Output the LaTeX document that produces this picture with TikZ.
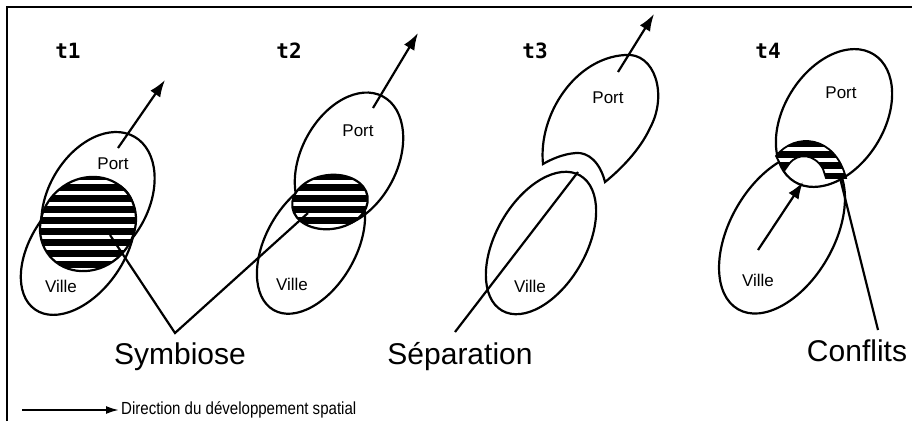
\documentclass[tikz,border=0pt]{standalone}
\usepackage{fontspec}
\setmainfont{Liberation Sans}
\newfontfamily\stagefont{DejaVu Sans Mono}
\newfontfamily\legendfont[FakeStretch=0.86]{Liberation Sans}
\usetikzlibrary{shapes.geometric, arrows.meta}

\begin{document}
\begin{tikzpicture}[
    x=1pt, y=-1pt,
    zone/.style={ellipse, draw=black, line width=2.2pt, inner sep=0pt},
    stagelabel/.style={font=\stagefont\bfseries\fontsize{21}{23}\selectfont, inner sep=0pt},
    zonelabel/.style={font=\fontsize{17}{20}\selectfont, inner sep=0pt},
    caption/.style={font=\fontsize{30}{34}\selectfont, inner sep=0pt},
    devarrow/.style={-{Latex[length=17pt, width=12pt]}, line width=2.2pt},
    link/.style={line width=2.2pt},
    stripe/.style={white, line width=3.5pt}
]
\useasboundingbox (0,0) rectangle (912,421);
\draw[line width=2.4pt] (7,421) -- (7,7) -- (912,7);

% stages
\node[stagelabel] (t1) at (68,51) {t1};
\node[stagelabel] (t2) at (289,51) {t2};
\node[stagelabel] (t3) at (535,51) {t3};
\node[stagelabel] (t4) at (768,51) {t4};

% t1 : symbiose
\node[zone, minimum width=146pt, minimum height=100pt, rotate=60] (port1) at (98,200) {};
\node[zone, minimum width=150pt, minimum height=92pt, rotate=55] (ville1) at (78,248) {};
\begin{scope}
    \clip (88,224) circle [x radius=50pt, y radius=45pt, rotate=40];
    \fill (0,130) rectangle (912,300);
    \foreach \y in {138,149,...,281} \draw[stripe] (0,\y) -- (912,\y);
\end{scope}
\draw[line width=2.2pt] (88,224) circle [x radius=50pt, y radius=45pt, rotate=40];
\node[zonelabel] (portlab1) at (113,164) {Port};
\node[zonelabel] (villelab1) at (61,286) {Ville};

% t2 : symbiose
\node[zone, minimum width=144pt, minimum height=96pt, rotate=62] (port2) at (349,160) {};
\node[zone, minimum width=150pt, minimum height=90pt, rotate=60] (ville2) at (311,245) {};
\begin{scope}
    \clip (330,202) circle [x radius=38pt, y radius=27pt, rotate=8];
    \fill (0,130) rectangle (912,300);
    \foreach \y in {138,149,...,281} \draw[stripe] (0,\y) -- (912,\y);
\end{scope}
\draw[line width=2.2pt] (330,202) circle [x radius=38pt, y radius=27pt, rotate=8];
\node[zonelabel] (portlab2) at (358,131) {Port};
\node[zonelabel] (villelab2) at (292,284) {Ville};

% t3 : separation
\draw[line width=2.2pt] (543,164) .. controls (538,115) and (575,58) .. (625,55)
    .. controls (655,52) and (668,95) .. (650,128)
    .. controls (640,150) and (620,170) .. (605,182)
    .. controls (600,162) and (588,152) .. (576,153)
    .. controls (562,154) and (550,160) .. (543,164) -- cycle;
\node[zone, minimum width=156pt, minimum height=90pt, rotate=60] (ville3) at (541,243) {};
\node[zonelabel] (portlab3) at (608,98) {Port};
\node[zonelabel] (villelab3) at (530,286) {Ville};

% t4 : conflits
\node[zone, minimum width=150pt, minimum height=100pt, rotate=58] (port4) at (834,118) {};
\node[zone, minimum width=176pt, minimum height=104pt, rotate=60] (ville4) at (782,233) {};
\begin{scope}
    \clip (776,156) .. controls (795,132) and (835,135) .. (846,178) -- (826,178) -- (823,169)
        .. controls (815,154) and (798,152) .. (789,164) -- (784,171) -- cycle;
    \fill (700,120) rectangle (900,200);
    \foreach \y in {138,149,...,281} \draw[stripe] (700,\y) -- (900,\y);
\end{scope}
\draw[line width=1.8pt] (776,156) .. controls (795,132) and (835,135) .. (846,178) -- (826,178) -- (823,169)
    .. controls (815,154) and (798,152) .. (789,164) -- (784,171) -- cycle;
\node[zonelabel] (portlab4) at (841,93) {Port};
\node[zonelabel] (villelab4) at (758,280) {Ville};

% directions of development
\coordinate (dev1a) at (118,148); \coordinate (dev1b) at (165,80);
\coordinate (dev2a) at (373,108); \coordinate (dev2b) at (418,33);
\coordinate (dev3a) at (618,72);  \coordinate (dev3b) at (654,14);
\coordinate (dev4a) at (758,250); \coordinate (dev4b) at (803,182);
\draw[devarrow] (dev1a) -- (dev1b);
\draw[devarrow] (dev2a) -- (dev2b);
\draw[devarrow] (dev3a) -- (dev3b);
\draw[devarrow] (dev4a) -- (dev4b);

% captions
\node[caption] (symb) at (180,357) {Symbiose};
\node[caption] (sepa) at (460,357) {Séparation};
\node[caption] (confl) at (857,351) {Conflits};
\coordinate (symbtip) at (175,333);
\coordinate (hatch1) at (110,235);
\coordinate (hatch2) at (308,213);
\coordinate (septip) at (455,332);
\coordinate (gap3) at (578,172);
\coordinate (crest4) at (840,178);
\coordinate (confltip) at (878,330);
\draw[link] (hatch1) -- (symbtip) -- (hatch2);
\draw[link] (septip) -- (gap3);
\draw[link] (crest4) -- (confltip);

% legend
\coordinate (leg1) at (22,410); \coordinate (leg2) at (119,410);
\draw[-{Latex[length=13pt, width=8pt]}, line width=2pt] (leg1) -- (leg2);
\node[anchor=west, font=\legendfont\fontsize{17.5}{20}\selectfont, inner sep=0pt] (legtext) at (121,410) {Direction du développement spatial};
\end{tikzpicture}
\end{document}
